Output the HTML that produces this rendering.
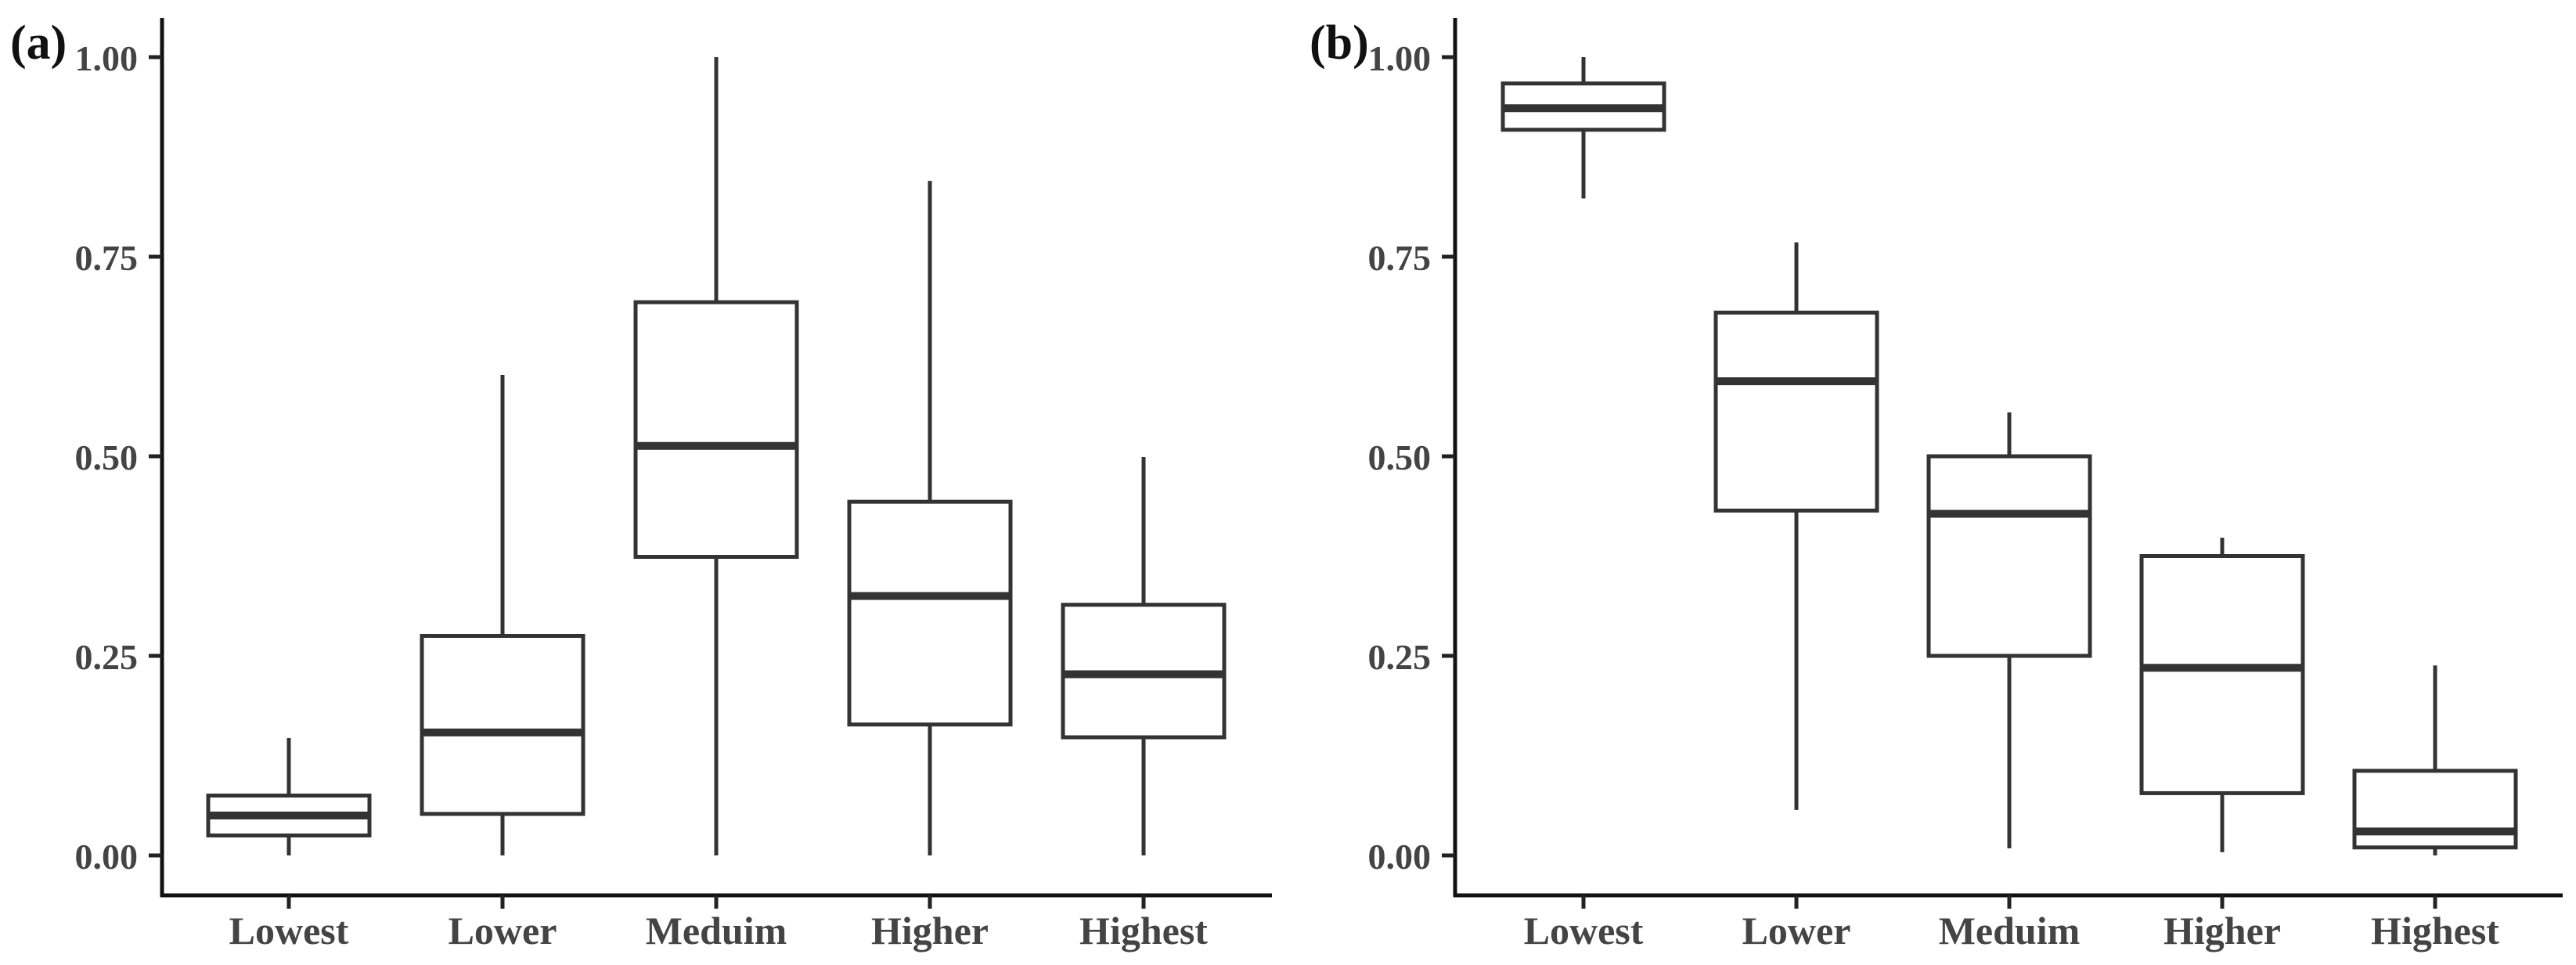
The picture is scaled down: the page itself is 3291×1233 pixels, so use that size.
<!DOCTYPE html>
<html><head><meta charset="utf-8"><style>
html,body{margin:0;padding:0;background:#fff}
svg{display:block}
text{font-family:"Liberation Serif",serif;font-weight:bold}
</style></head><body>
<svg id="chart" width="3291" height="1233" viewBox="0 0 3291 1233" xmlns="http://www.w3.org/2000/svg"></svg>
<script>
const categories = ["Lowest","Lower","Meduim","Higher","Highest"];
const yTicks = [0, 0.25, 0.5, 0.75, 1.0];
const yTickLabels = ["0.00","0.25","0.50","0.75","1.00"];
// panel (a)
const aMin = [0, 0, 0, 0, 0];
const aQ1 = [0.025, 0.052, 0.374, 0.164, 0.148];
const aMed = [0.050, 0.154, 0.513, 0.325, 0.227];
const aQ3 = [0.075, 0.275, 0.693, 0.443, 0.314];
const aMax = [0.147, 0.602, 1.0, 0.845, 0.499];
// panel (b)
const bMin = [0.823, 0.057, 0.009, 0.004, 0];
const bQ1 = [0.909, 0.432, 0.250, 0.078, 0.010];
const bMed = [0.936, 0.594, 0.428, 0.235, 0.030];
const bQ3 = [0.967, 0.680, 0.500, 0.375, 0.106];
const bMax = [1.0, 0.768, 0.555, 0.398, 0.238];

const NS = "http://www.w3.org/2000/svg";
const svg = document.getElementById("chart");
function mk(tag, attrs, parent){
  const e = document.createElementNS(NS, tag);
  for (const k in attrs) e.setAttribute(k, attrs[k]);
  (parent||svg).appendChild(e);
  return e;
}
function panel(name, label, axisX, xFirst, xStep, xEnd, lblX, mins, q1s, meds, q3s, maxs){
  const g = mk("g", {});
  
  
  const y = v => 1093 - v * 1020;
  const x = i => xFirst + i * xStep;
  const hw = 103;
  const col = "#333";
  const ya = mk("line", {x1:axisX, y1:23, x2:axisX, y2:1146, stroke:"#111", "stroke-width":5}, g);
  
  
  const xa = mk("line", {x1:axisX-2, y1:1144, x2:xEnd, y2:1144, stroke:"#111", "stroke-width":5}, g);
  
  
  yTicks.forEach((v, i) => {
    const t = mk("line", {x1:axisX-17, y1:y(v), x2:axisX, y2:y(v), stroke:"#222", "stroke-width":5}, g);
    
    
    const tl = mk("text", {x:axisX-31, y:y(v)+17, "text-anchor":"end", "font-size":46, fill:"#444"}, g);
    tl.textContent = yTickLabels[i];
    
    
  });
  categories.forEach((c, i) => {
    const cx = x(i);
    const t = mk("line", {x1:cx, y1:1144, x2:cx, y2:1161, stroke:"#222", "stroke-width":5}, g);
    
    
    const tl = mk("text", {x:cx, y:1206, "text-anchor":"middle", "font-size":50, fill:"#444"}, g);
    tl.textContent = c;
    
    
    const bg = mk("g", {}, g);
    
    
    mk("line", {x1:cx, y1:y(maxs[i]), x2:cx, y2:y(q3s[i]), stroke:col, "stroke-width":5}, bg);
    mk("line", {x1:cx, y1:y(q1s[i]), x2:cx, y2:y(mins[i]), stroke:col, "stroke-width":5}, bg);
    mk("rect", {x:cx-hw, y:y(q3s[i]), width:2*hw, height:y(q1s[i])-y(q3s[i]), fill:"#fff", stroke:col, "stroke-width":5}, bg);
    mk("line", {x1:cx-hw, y1:y(meds[i]), x2:cx+hw, y2:y(meds[i]), stroke:col, "stroke-width":10}, bg);
  });
  const pl = mk("text", {x:lblX, y:75, "font-size":62, fill:"#111"}, g);
  pl.textContent = label;
  
  
}
panel("a", "(a)", 207, 369, 273, 1625, 13, aMin, aQ1, aMed, aQ3, aMax);
panel("b", "(b)", 1859, 2023, 272, 3274, 1673, bMin, bQ1, bMed, bQ3, bMax);
</script>
</body></html>
